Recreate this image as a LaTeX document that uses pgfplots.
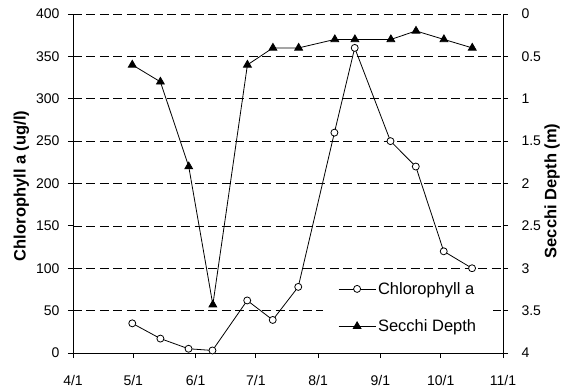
\documentclass[border=0pt]{standalone}
\usepackage{fontspec}
\setmainfont{Liberation Sans}
\usepackage{pgfplots}
\pgfplotsset{compat=1.18}
\begin{document}
\begin{tikzpicture}
\pgfplotsset{
  every axis/.append style={
    scale only axis, width=430bp, height=339bp,
    xmin=0, xmax=214,
    tick align=outside, major tick length=5bp,
    tick style={black, line width=0.8bp},
    axis line style={black, line width=0.8bp},
    /pgf/number format/assume math mode=true,
    tick label style={font=\fontsize{14bp}{16bp}\selectfont},
    label style={font=\fontsize{16.5bp}{19bp}\selectfont\bfseries},
  },
  legimg/.style={legend image code/.code={\draw[mark repeat=2,mark phase=2,##1] plot coordinates {(0bp,0bp) (18.5bp,0bp) (37bp,0bp)};}},
  chl/.style={black, line width=0.8bp, mark=*, mark size=3.5bp, mark options={fill=white, solid}, legimg},
  sec/.style={black, line width=0.8bp, mark=triangle*, mark size=4.5bp, mark options={fill=black, solid}, legimg},
}
\begin{axis}[
  axis x line*=bottom, axis y line*=left,
  ymin=0, ymax=400, ytick={0,50,...,350},
  extra y ticks={400},
  extra y tick style={grid style={gray, line width=0.8bp, dash pattern=on 2bp off 1bp}},
  xtick={0,30,61,91,122,153,183,214},
  xticklabels={4/1,5/1,6/1,7/1,8/1,9/1,10/1,11/1},
  ymajorgrids,
  major grid style={black, line width=0.7bp, dash pattern=on 9bp off 4.5bp},
  yticklabel shift=5bp, xticklabel shift=14bp,
  ylabel={Chlorophyll a (ug/l)},
  ylabel style={at={(axis description cs:-0.1198,0.493)}, anchor=center},
]
\addplot[chl] table {
x y
29.5 35
43.5 17
57.5 5
69.4 3
86.7 62
99.4 39
112.1 78
130.1 260
140.2 360
158.0 250
170.6 220
184.5 120
198.6 100
};
\end{axis}
\begin{axis}[
  axis x line=none, axis y line*=right,
  ymin=0, ymax=4, y dir=reverse, ytick={0,0.5,...,4},
  yticklabel shift=10bp,
  ylabel={Secchi Depth (m)},
  ylabel style={at={(axis description cs:1.114,0.478)}, anchor=center},
  legend style={at={(axis description cs:0.5814,0.239)}, anchor=north west,
    draw=none, fill=white, row sep=20bp, inner xsep=15bp, inner ysep=8bp},
  legend style={font=\fontsize{16.5bp}{19bp}\selectfont},
  legend cell align=left,
]
\addlegendimage{chl}
\addlegendentry{Chlorophyll a}
\addplot[sec] table {
x y
29.5 0.6
43.5 0.8
57.6 1.8
69.6 3.43
86.8 0.6
99.5 0.4
112.3 0.4
130.3 0.3
140.3 0.3
158.2 0.3
170.7 0.2
184.6 0.3
198.7 0.4
};
\addlegendentry{Secchi Depth}
\end{axis}
\pgfresetboundingbox
\path ([shift={(-73bp,-39bp)}]current axis.south west) rectangle ([shift={(83bp,14bp)}]current axis.north east);
\end{tikzpicture}
\end{document}
